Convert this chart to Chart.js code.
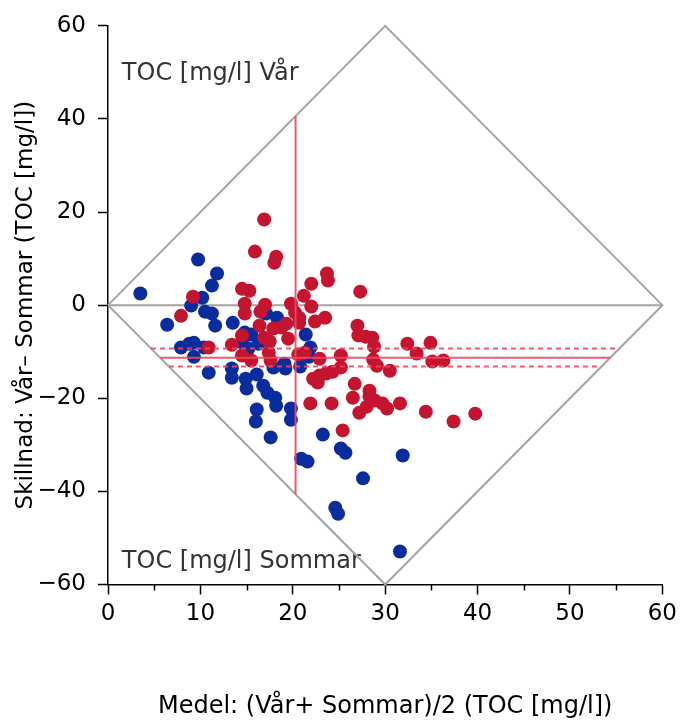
<!DOCTYPE html>
<html>
<head>
<meta charset="utf-8">
<script src="https://cdn.jsdelivr.net/npm/chart.js@4"></script>
<style>
  html, body { margin: 0; padding: 0; background: #fff; }
  #wrap { width: 683px; height: 722px; }
</style>
</head>
<body>
<div id="wrap"><canvas id="graph" width="683" height="722"></canvas></div>
<script>
// Vår (blue) points: mean, difference
var blueX = [3.5, 6.4, 7.9, 8.8, 9.3, 10.4, 9.3, 10.9, 9.75, 11.8, 11.25, 10.2, 9.0, 10.5, 11.25, 11.6, 13.5,
  13.4, 13.4, 14.9, 15.0, 16.1, 16.8, 17.25, 18.1, 18.2, 16.1, 16.0, 19.8, 19.8, 17.6, 20.9, 21.6,
  14.8, 15.5, 14.5, 16.3, 15.2, 17.1, 18.3, 21.4, 21.9, 21.75, 17.9, 19.1, 19.2, 20.8,
  23.25, 25.2, 25.7, 24.6, 24.9, 31.6, 27.6, 31.9];
var blueY = [2.5, -4.2, -9.1, -8.3, -8.1, -9.1, -11.1, -14.5, 9.8, 6.8, 4.2, 1.6, -0.1, -1.4, -1.8, -4.4, -3.8,
  -13.6, -15.6, -15.8, -17.9, -14.9, -17.3, -18.8, -19.9, -21.6, -22.4, -25.0, -22.2, -24.6, -28.4, -33.0, -33.6,
  -5.9, -6.3, -8.0, -8.3, -9.3, -1.8, -2.7, -6.3, -9.1, -11.1, -13.4, -12.6, -13.6, -13.2,
  -27.8, -30.8, -31.7, -43.5, -44.8, -52.9, -37.2, -32.3];

// red points
var redX = [16.9, 15.9, 18.2, 18.0, 14.5, 15.3, 9.2, 7.9, 22.0, 21.2,
  23.7, 23.8, 27.3, 14.8, 14.8, 17.0, 16.5, 19.8, 22.0, 20.25,
  20.7, 20.7, 22.4, 23.5, 16.4, 17.9, 18.75, 19.3, 19.5, 16.9,
  17.5, 14.5, 13.4, 14.5, 15.5, 17.4, 17.6, 20.6, 21.3, 22.9,
  25.2, 25.2, 27.0, 27.1, 27.9, 28.6, 28.8, 28.7, 29.1, 30.5,
  32.4, 34.9, 33.4, 35.1, 36.3, 22.2, 22.9, 23.6, 24.3, 22.7,
  26.7, 26.5, 28.3, 28.3, 28.9, 29.7, 30.2, 28.0, 27.2, 31.6,
  34.4, 37.4, 39.75, 25.4, 21.9, 24.2, 10.9];
var redY = [18.4, 11.5, 10.4, 9.1, 3.5, 3.1, 1.8, -2.3, 4.6, 2.0,
  6.8, 5.3, 2.9, 0.3, -1.8, 0.1, -1.4, 0.3, -0.3, -1.6,
  -2.7, -3.8, -3.5, -2.7, -4.4, -5.0, -4.8, -4.0, -7.2, -7.0,
  -7.8, -6.5, -8.5, -10.8, -11.9, -10.2, -11.9, -10.6, -10.2, -11.5,
  -10.8, -13.4, -4.4, -6.5, -6.8, -7.0, -8.9, -11.7, -13.0, -14.1,
  -8.3, -8.1, -10.4, -12.1, -11.9, -15.8, -15.1, -14.7, -14.3, -16.6,
  -16.9, -19.9, -18.4, -19.6, -20.5, -21.1, -22.2, -21.8, -23.1, -21.1,
  -22.9, -25.0, -23.3, -26.9, -21.1, -21.1, -9.1];

// reference lines
var meanX = 20.3;
var meanDiff = -11.3;
var ciUpper = -9.3;
var ciLower = -13.2;

var xTicks = [0, 10, 20, 30, 40, 50, 60];
var xMinor = [5, 15, 25, 35, 45, 55];
var yTicks = [-60, -40, -20, 0, 20, 40, 60];

var FONT = "'DejaVu Sans', sans-serif";

function pts(xs, ys) {
  var out = [];
  for (var i = 0; i < xs.length; i++) out.push({x: xs[i], y: ys[i]});
  return out;
}
// horizontal line between the two lower diamond edges (y = -2x and y = -2(60-x))
function hline(y) {
  return [{x: -y / 2, y: y}, {x: 60 + y / 2, y: y}];
}
function minus(v) { return String(v).replace('-', '\u2212'); }

var redLine = 'rgba(240,70,95,0.9)';
var grey = '#a3a3a3';

function lineSet(data, color, dash) {
  return {
    type: 'line', data: data, borderColor: color, borderWidth: 2,
    borderDash: dash || [], pointRadius: 0, fill: false, tension: 0, clip: false
  };
}

var annot = {
  id: 'annot',
  beforeDatasetsDraw: function(chart) {
    var c = chart.ctx, xs = chart.scales.x, ys = chart.scales.y;
    c.save();
    c.fillStyle = '#333';
    c.font = '24px ' + FONT;
    c.textBaseline = 'alphabetic';
    c.fillText('TOC [mg/l] Vår', xs.getPixelForValue(1.5), ys.getPixelForValue(48.3));
    c.fillText('TOC [mg/l] Sommar', xs.getPixelForValue(1.5), ys.getPixelForValue(-56.4));
    c.restore();
  },
  afterDraw: function(chart) {
    var c = chart.ctx, xs = chart.scales.x, ys = chart.scales.y;
    var y0 = ys.getPixelForValue(-60);
    c.save();
    c.strokeStyle = '#000';
    c.lineWidth = 1.5;
    xMinor.forEach(function(v) {
      var px = Math.round(xs.getPixelForValue(v)) + 0.5;
      c.beginPath();
      c.moveTo(px, y0);
      c.lineTo(px, y0 + 6);
      c.stroke();
    });
    c.restore();
  }
};

var ctx = document.getElementById('graph');
var myChart = new Chart(ctx, {
  type: 'scatter',
  data: {
    datasets: [
      lineSet([{x: meanX, y: 2 * meanX}, {x: meanX, y: -2 * meanX}], redLine),
      lineSet(hline(meanDiff), redLine),
      lineSet(hline(ciUpper), redLine, [5, 4]),
      lineSet(hline(ciLower), redLine, [5, 4]),
      { data: pts(redX, redY), backgroundColor: '#c5142f', borderWidth: 0, pointRadius: 7 },
      { data: pts(blueX, blueY), backgroundColor: '#0b2c9f', borderWidth: 0, pointRadius: 7 },
      lineSet([{x: 0, y: 0}, {x: 60, y: 0}], grey),
      lineSet([{x: 0, y: 0}, {x: 30, y: 60}, {x: 60, y: 0}, {x: 30, y: -60}, {x: 0, y: 0}], grey)
    ]
  },
  options: {
    responsive: false,
    animation: false,
    events: [],
    layout: { padding: { top: 25, right: 15, left: 0, bottom: 0 } },
    plugins: { legend: { display: false }, tooltip: { enabled: false } },
    scales: {
      x: {
        type: 'linear', min: 0, max: 60,
        afterBuildTicks: function(s) { s.ticks = xTicks.map(function(v) { return {value: v}; }); },
        afterFit: function(s) { s.height = 137.5; },
        grid: { drawOnChartArea: false, drawTicks: true, tickLength: 10, color: '#000', tickWidth: 1.5 },
        border: { color: '#000', width: 1.5 },
        ticks: { color: '#000', padding: 6, maxRotation: 0, font: { family: FONT, size: 23 }, callback: minus },
        title: {
          display: true, text: 'Medel: (Vår+ Sommar)/2 (TOC [mg/l])', color: '#000',
          font: { family: FONT, size: 24 }, padding: { top: 0, bottom: 1 }
        }
      },
      y: {
        type: 'linear', min: -60, max: 60,
        afterBuildTicks: function(s) { s.ticks = yTicks.map(function(v) { return {value: v}; }); },
        afterFit: function(s) { s.width = 108; },
        grid: { drawOnChartArea: false, drawTicks: true, tickLength: 10, color: '#000', tickWidth: 1.5 },
        border: { color: '#000', width: 1.5 },
        ticks: { color: '#000', padding: 12, font: { family: FONT, size: 23 }, callback: minus },
        title: {
          display: true, text: 'Skillnad: Vår– Sommar (TOC [mg/l])', color: '#000',
          font: { family: FONT, size: 23 }, padding: { top: 12, bottom: 0 }
        }
      }
    }
  },
  plugins: [annot]
});
</script>
</body>
</html>
